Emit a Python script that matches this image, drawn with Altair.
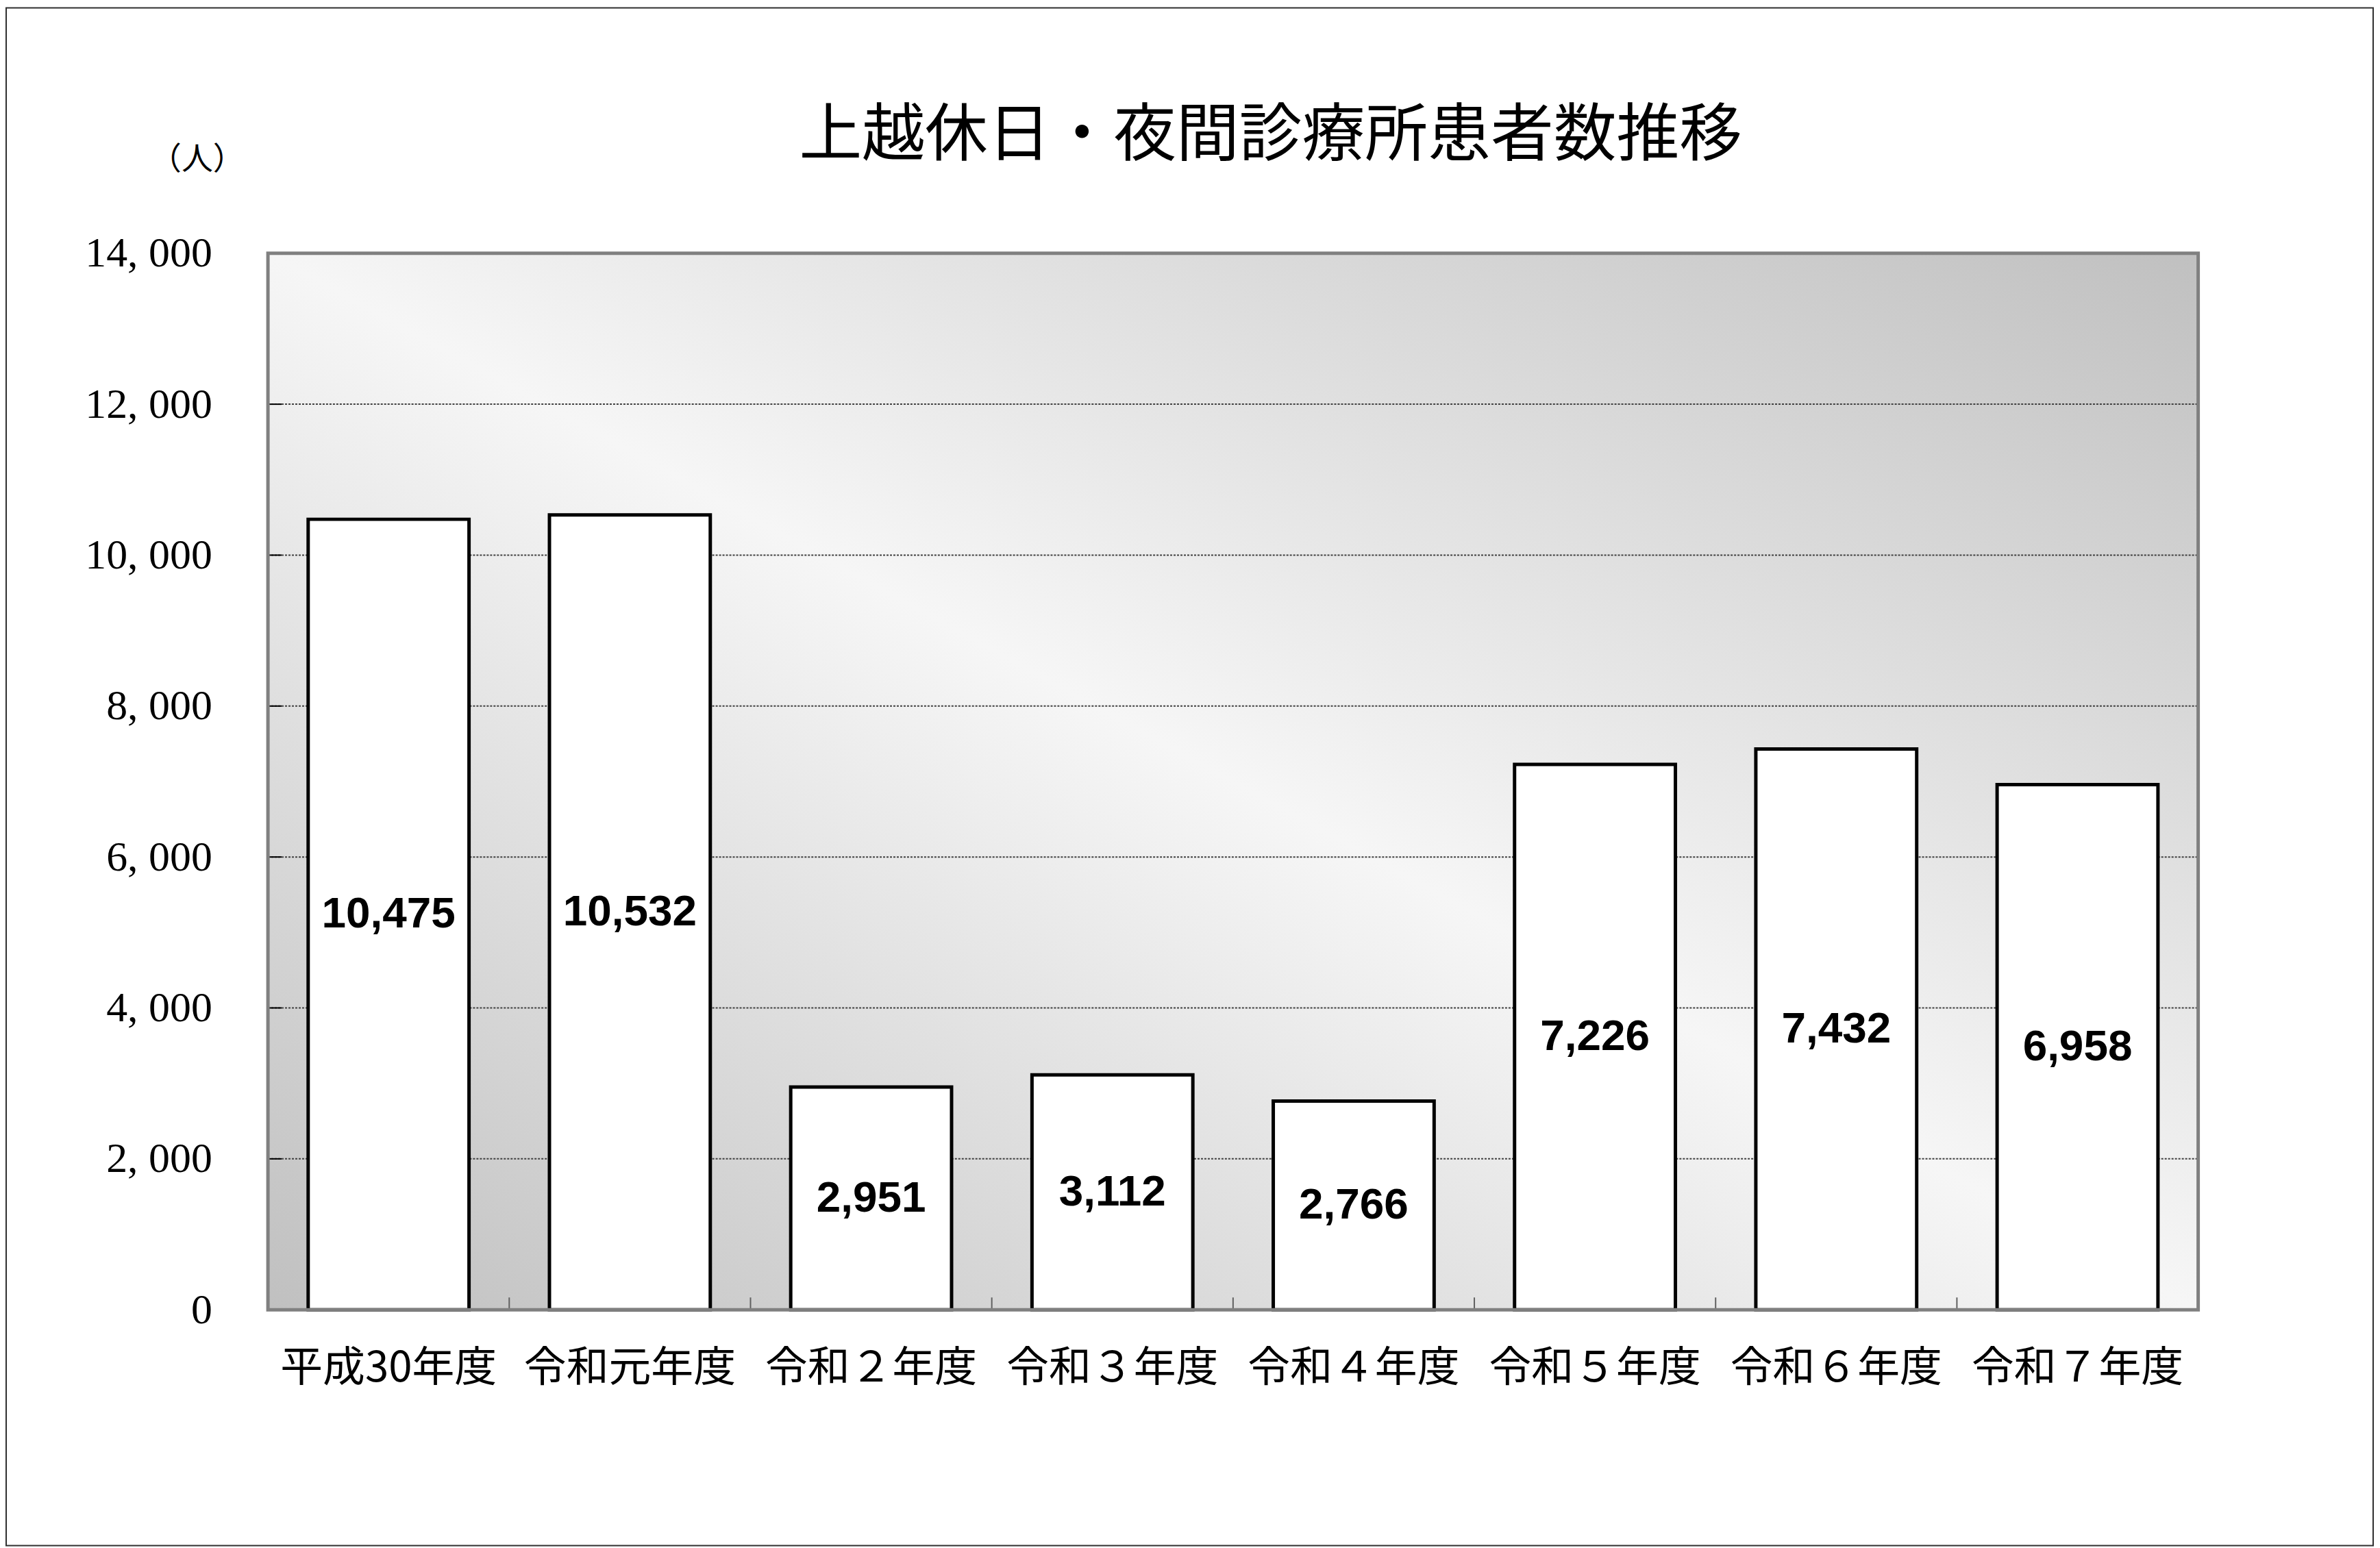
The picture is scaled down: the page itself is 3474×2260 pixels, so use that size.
import altair as alt
import pandas as pd

categories = ["平成30年度", "令和元年度", "令和２年度", "令和３年度",
              "令和４年度", "令和５年度", "令和６年度", "令和７年度"]
patients = [10475, 10532, 2951, 3112, 2766, 7226, 7432, 6958]
y_ticks = [0, 2000, 4000, 6000, 8000, 10000, 12000, 14000]

W, H = 2824, 1546

df = pd.DataFrame({"cat": categories, "value": patients})
ticks_df = pd.DataFrame({"v": y_ticks})

x_enc = alt.X("cat:N", sort=categories,
              scale=alt.Scale(paddingInner=0, paddingOuter=0),
              axis=alt.Axis(title=None, labelAngle=0, labelFont="Noto Sans CJK JP",
                            labelFontSize=62, labelColor="black", labelPadding=56,
                            labelBaseline="top", labelAlign="center", labelLimit=0,
                            bandPosition=0.5, ticks=False, domain=False))
y_scale = alt.Scale(domain=[0, 14000], nice=False)
y_axis = alt.Axis(values=y_ticks,
                  labelExpr="replace(format(datum.value, ','), ',', ', ')",
                  labelFont="Liberation Serif", labelFontSize=62, labelColor="black",
                  labelPadding=82, labelLimit=0, ticks=False, domain=False, grid=False,
                  title="（人）", titleAngle=0, titleX=-104, titleY=-138,
                  titleAlign="center", titleBaseline="middle",
                  titleFont="Noto Sans CJK JP", titleFontSize=46,
                  titleFontWeight="normal", titleColor="black")

one = alt.Data(values=[{"a": 1}])

bg = alt.Chart(one).mark_rect(
    fill=alt.LinearGradient(gradient="linear", x1=0, y1=1, x2=1, y2=0,
                            stops=[alt.GradientStop(offset=0, color="#c0c0c0"),
                                   alt.GradientStop(offset=0.5, color="#f6f6f6"),
                                   alt.GradientStop(offset=1, color="#c0c0c0")])
).encode(x=alt.value(0), x2=alt.value(W), y=alt.value(0), y2=alt.value(H))

grid = alt.Chart(ticks_df).mark_rule(color="#404040", strokeWidth=2, strokeDash=[3, 2]).encode(
    y=alt.Y("v:Q", scale=y_scale, axis=y_axis), x=alt.value(0), x2=alt.value(W))

ytick = alt.Chart(ticks_df).mark_rule(color="black", strokeWidth=2).encode(
    y=alt.Y("v:Q", scale=y_scale), x=alt.value(0), x2=alt.value(20))

bars = alt.Chart(df).mark_bar(
    fill="white", stroke="black", strokeWidth=5,
    width=alt.RelativeBandSize(2 / 3)
).encode(x=x_enc, y=alt.Y("value:Q", scale=y_scale))

xtick = alt.Chart(df).mark_rule(color="#606060", strokeWidth=2).encode(
    x=alt.X("cat:N", sort=categories, bandPosition=0),
    y=alt.value(H - 18), y2=alt.value(H))

labels = alt.Chart(df).transform_calculate(half="datum.value / 2").mark_text(
    font="Liberation Sans", fontWeight="bold", fontSize=64, color="black",
    baseline="middle", align="center"
).encode(x=alt.X("cat:N", sort=categories), y=alt.Y("half:Q", scale=y_scale),
         text=alt.Text("value:Q", format=","))

border = alt.Chart(one).mark_rect(fill=None, stroke="#808080", strokeWidth=5).encode(
    x=alt.value(0), x2=alt.value(W), y=alt.value(0), y2=alt.value(H))

frame = alt.Chart(one).mark_rect(fill=None, stroke="#303030", strokeWidth=2, clip=False).encode(
    x=alt.value(-383), x2=alt.value(W + 256), y=alt.value(-359), y2=alt.value(H + 345))

chart = alt.layer(bg, grid, ytick, bars, xtick, labels, border, frame).properties(
    width=W, height=H,
    title=alt.TitleParams("上越休日・夜間診療所患者数推移", font="Noto Sans CJK JP",
                          fontSize=92, fontWeight="normal", color="black",
                          anchor="middle", frame="group", dx=55, offset=-328,
                          baseline="bottom"),
    autosize=alt.AutoSizeParams(type="none"),
    padding={"left": 384, "top": 360, "right": 258, "bottom": 346},
).configure_view(stroke=None).configure(background="white")

chart.save("out.html", embed_options={"renderer": "svg", "actions": False})
